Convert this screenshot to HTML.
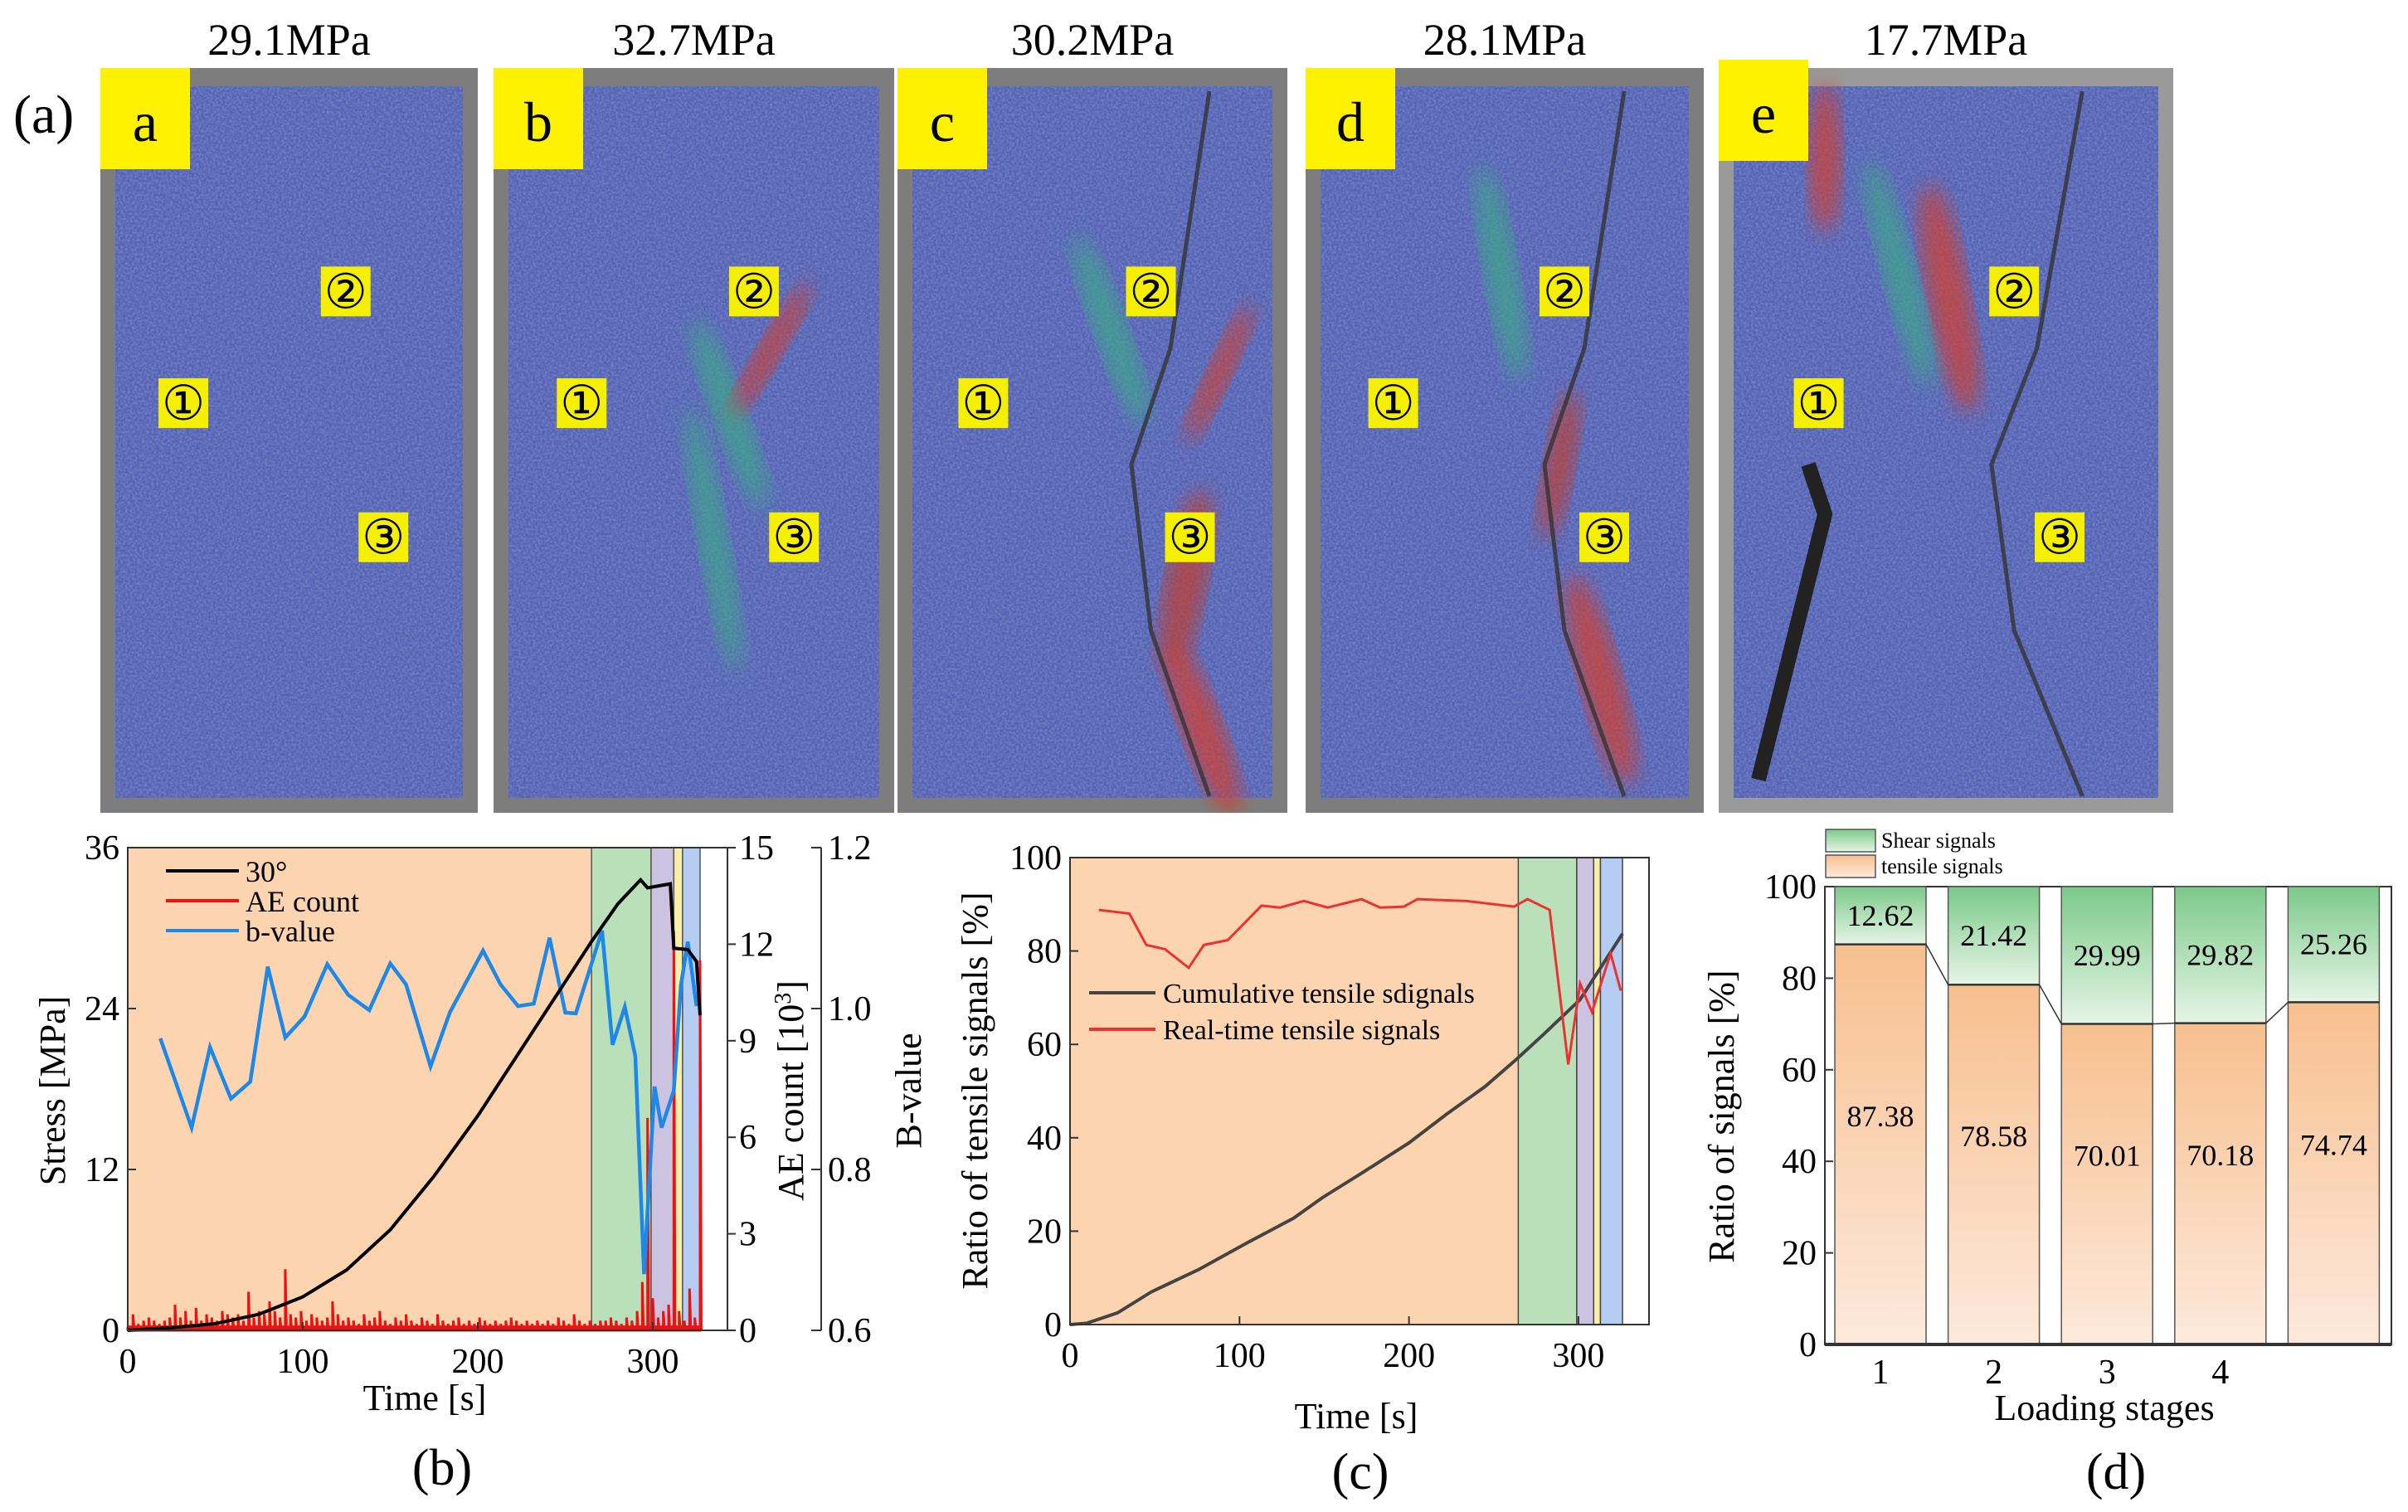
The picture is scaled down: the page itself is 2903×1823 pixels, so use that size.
<!DOCTYPE html>
<html><head><meta charset="utf-8">
<style>
html,body{margin:0;padding:0;background:#fff;}
svg{display:block;}
svg text{font-family:"Liberation Serif","Times New Roman",serif;}
</style></head>
<body>
<svg id="fig" width="2903" height="1823" viewBox="0 0 2903 1823" xmlns="http://www.w3.org/2000/svg">
<defs>
  <filter id="tex" x="0" y="0" width="100%" height="100%">
    <feTurbulence type="fractalNoise" baseFrequency="0.35" numOctaves="2" seed="3"/>
    <feColorMatrix type="matrix" values="0 0 0 0 0.2  0 0 0 0 0.25  0 0 0 0 0.55  0 0 0 -1.6 1.1"/>
    <feComposite in2="SourceGraphic" operator="in"/>
  </filter>
  <filter id="blur12"><feGaussianBlur stdDeviation="12"/></filter>
  <linearGradient id="gGreen" x1="0" y1="0" x2="0" y2="1"><stop offset="0" stop-color="#7cc98a"/><stop offset="1" stop-color="#e6f5e6"/></linearGradient>
  <linearGradient id="gOrange" x1="0" y1="0" x2="0" y2="1"><stop offset="0" stop-color="#f7bf8e"/><stop offset="1" stop-color="#fde9dc"/></linearGradient>
</defs>
<g id="photos"></g>
<g id="chartB"></g>
<g id="chartC"></g>
<g id="chartD"></g>
</svg>
<script>
// ---------- data ----------
const stressT = [0,25,50,75,100,125,150,175,200,225,250,265,280,293,297,310,312,320,325,327];
const stressV = [0,0.2,0.5,1.2,2.5,4.5,7.5,11.5,16,21,26,29,31.8,33.6,33.0,33.3,28.5,28.4,27.5,23.5];
const bT = [18.6,36.5,47,59,70,80,90,101,114,126,138,150,159,173,184,203,213,223,232,241,250,256,271,277,284,290,295,301,305,312,316,320,325];
const bV = [0.963,0.852,0.952,0.888,0.909,1.052,0.964,0.990,1.055,1.017,0.998,1.056,1.030,0.928,0.995,1.072,1.030,1.003,1.006,1.088,0.995,0.994,1.097,0.955,1.002,0.941,0.670,0.903,0.852,0.898,1.028,1.083,1.003];
const aeStep = 3;
const aeV = [0.1,0.5,0.2,0.3,0.4,0.3,0.2,0.3,0.4,0.8,
0.4,0.6,0.3,0.7,0.3,0.5,0.4,0.3,0.6,0.5,
0.4,0.5,0.3,1.2,0.4,0.6,0.5,0.9,0.6,0.4,
1.9,0.5,0.4,0.6,0.3,0.5,0.4,0.3,0.4,0.9,
0.5,0.3,0.4,0.3,0.2,0.5,0.3,0.4,0.6,0.3,
0.2,0.4,0.3,0.5,0.3,0.2,0.4,0.3,0.2,0.5,
0.3,0.2,0.3,0.4,0.2,0.3,0.2,0.4,0.3,0.2,
0.3,0.2,0.3,0.4,0.3,0.2,0.3,0.2,0.3,0.2,
0.3,0.2,0.4,0.3,0.2,0.5,0.3,0.2,0.3,0.2,
0.3,0.3,0.4,0.3,0.2,0.4,0.3,0.6,1.5,6.6,
1.0,0.4,0.6,0.8,12.4,0.6,0.3,1.3,0.4,11.5];
const stageBounds = [0,265,299,312,317,327];
const stageColors = ["#fcd5b0","#b9e0b8","#cbc3df","#f8f0a8","#b5cdf3"];
const bTicksX = [0,100,200,300];
const bTicksStress = [0,12,24,36];
const bTicksAE = [0,3,6,9,12,15];
const bTicksB = ["0.6","0.8","1.0","1.2"];

const cumT = [0,10,28,48,76,104,132,149,172,200,222,245,264,279,301,326];
const cumV = [0,0.3,2.5,7,11.8,17.4,22.8,27.2,32.4,38.9,45,51,57,62,69.6,83.7];
const rtT = [17,35,45,56,70,79,93,113,124,138,152,172,183,197,205,234,262,270,283,294,301,308,319,325];
const rtV = [88.8,88,81.3,80.4,76.4,81.3,82.3,89.7,89.3,90.7,89.3,91.1,89.3,89.5,91.1,90.7,89.5,91.1,88.8,55.7,73,66.9,79.5,71.5];
const cStageBounds = [0,264.5,299,309,313,326];
const cTicksX = [0,100,200,300];
const cTicksY = [0,20,40,60,80,100];

const dStages = ["1","2","3","4",""];
const dTensile = [87.38,78.58,70.01,70.18,74.74];
const dShear = [12.62,21.42,29.99,29.82,25.26];
const dTicksY = [0,20,40,60,80,100];

const pressures = ["29.1MPa","32.7MPa","30.2MPa","28.1MPa","17.7MPa"];
const panelLetters = ["a","b","c","d","e"];

// ---------- helpers ----------
const NS="http://www.w3.org/2000/svg";
function mk(parent,tag,attrs,text){const e=document.createElementNS(NS,tag);for(const k in attrs)e.setAttribute(k,attrs[k]);if(text!==undefined)e.textContent=text;parent.appendChild(e);return e;}

// ---------- photos ----------
const photos=document.getElementById('photos');
const panelX=[[121,576],[595,1078],[1082,1552],[1574,2054],[2072,2620]];
const streaks=[
 [],
 [[880,500,20,120,-20,'#3ea88a'],[930,420,15,90,30,'#d04030'],[860,650,18,160,-10,'#3ea88a']],
 [[1340,400,20,120,-20,'#3ea88a'],[1430,700,25,110,10,'#c04030'],[1450,880,25,110,-20,'#d04030'],[1470,450,15,90,25,'#d04030']],
 [[1810,330,20,130,-10,'#3ea88a'],[1930,820,25,130,-15,'#d04030'],[1880,560,18,90,10,'#c04030']],
 [[2200,190,20,90,0,'#d04030'],[2350,360,25,140,-10,'#d04030'],[2290,330,20,140,-15,'#3ea88a']]
];
panelX.forEach((p,i)=>{
  const g=mk(photos,'g',{});
  
  
  const w=p[1]-p[0];
  mk(g,'clipPath',{id:'clip'+i}).appendChild(Object.assign(document.createElementNS(NS,'rect'),{}));
  const cr=g.lastChild.firstChild; cr.setAttribute('x',p[0]);cr.setAttribute('y',82);cr.setAttribute('width',w);cr.setAttribute('height',898);
  const inner=mk(g,'g',{"clip-path":`url(#clip${i})`});
  mk(inner,'rect',{x:p[0],y:82,width:w,height:898,fill:i==4?'#9a9a9a':'#7d7d7d'});
  mk(inner,'rect',{x:p[0]+18,y:104,width:w-36,height:858,fill:'#5361b6'});
  mk(inner,'rect',{x:p[0]+18,y:104,width:w-36,height:858,fill:'#5361b6',filter:'url(#tex)'});
  streaks[i].forEach(s=>{mk(inner,'ellipse',{cx:s[0],cy:s[1],rx:s[2],ry:s[3],fill:s[5],opacity:0.75,filter:'url(#blur12)',transform:`rotate(${s[4]} ${s[0]} ${s[1]})`});});
  if(i>=2){mk(inner,'path',{d:`M${p[0]+w*0.8} 110 L${p[0]+w*0.7} 420 L${p[0]+w*0.6} 560 L${p[0]+w*0.65} 760 L${p[0]+w*0.8} 960`,stroke:'#333',"stroke-width":5,fill:'none',opacity:0.8});}
  if(i==4){mk(inner,'path',{d:`M2120 940 L2200 620 L2180 560`,stroke:'#222',"stroke-width":18,fill:'none'});}
  const mpos=[[0.22,0.45],[0.65,0.3],[0.75,0.63]];
  const mnum=["①","②","③"];
  mpos.forEach((m,j)=>{
    const cx=p[0]+w*m[0], cy=82+898*m[1];
    const mg=mk(g,'g',{});
    
    
    mk(mg,'rect',{x:cx-30,y:cy-30,width:60,height:60,fill:'#f5f000'});
    mk(mg,'text',{x:cx,y:cy+20,"font-size":58,"text-anchor":"middle",fill:'#000'},mnum[j]);
  });
  const lb=mk(g,'g',{});
  
  
  mk(lb,'rect',{x:p[0],y:i==4?72:82,width:108,height:122,fill:'#fff200'});
  mk(lb,'text',{x:p[0]+54,y:(i==4?72:82)+88,"font-size":68,"text-anchor":"middle"},panelLetters[i]);
  const pt=mk(photos,'text',{x:(p[0]+p[1])/2,y:66,"font-size":54,"text-anchor":"middle"},pressures[i]);
  
  
});
const al=mk(photos,'text',{x:16,y:160,"font-size":66},"(a)");



// ---------- chart B ----------
const B=document.getElementById('chartB');
const bL=154,bR=877,bTop=1022,bBot=1604;
const xb=t=>bL+t*2.11;
const ys=s=>bBot-s/36*(bBot-bTop);
const yae=a=>bBot-a/15*(bBot-bTop);
const ybv=b=>bBot-(b-0.6)/0.6*(bBot-bTop);
for(let i=0;i<5;i++){
  const r=mk(B,'rect',{x:xb(stageBounds[i]),y:bTop,width:xb(stageBounds[i+1])-xb(stageBounds[i]),height:bBot-bTop,fill:stageColors[i],stroke:i?'#555':'none',"stroke-width":1.5});
  
  
}
let aePts=[];
aeV.forEach((v,i)=>{const x=xb(i*aeStep);aePts.push(`${x},${yae(0)} ${x},${yae(v)} ${x+1.5},${yae(0)}`);});
const aeLine=mk(B,'polyline',{points:aePts.join(' '),fill:'none',stroke:'#ee1111',"stroke-width":3});


mk(B,'rect',{x:bL,y:yae(0.15),width:xb(327)-bL,height:yae(0)-yae(0.15),fill:'#ee1111'});
const bl=mk(B,'polyline',{points:bT.map((t,i)=>xb(t)+','+ybv(bV[i])).join(' '),fill:'none',stroke:'#1e88e8',"stroke-width":4.5});


const sl=mk(B,'polyline',{points:stressT.map((t,i)=>xb(t)+','+ys(stressV[i])).join(' '),fill:'none',stroke:'#000',"stroke-width":4});


mk(B,'rect',{x:bL,y:bTop,width:bR-bL,height:bBot-bTop,fill:'none',stroke:'#333',"stroke-width":2});
bTicksStress.forEach(v=>{mk(B,'line',{x1:bL,x2:bL+10,y1:ys(v),y2:ys(v),stroke:'#333',"stroke-width":2});const t=mk(B,'text',{x:bL-10,y:ys(v)+14,"font-size":42,"text-anchor":"end"},v);});
bTicksAE.forEach(v=>{mk(B,'line',{x1:bR,x2:bR+10,y1:yae(v),y2:yae(v),stroke:'#333',"stroke-width":2});const t=mk(B,'text',{x:bR+14,y:yae(v)+14,"font-size":42},v);});
const bAx=990;
mk(B,'line',{x1:bAx,x2:bAx,y1:bTop,y2:bBot,stroke:'#333',"stroke-width":2});
bTicksB.forEach(v=>{const y=ybv(parseFloat(v));mk(B,'line',{x1:bAx-12,x2:bAx,y1:y,y2:y,stroke:'#333',"stroke-width":2});const t=mk(B,'text',{x:bAx+8,y:y+14,"font-size":42},v);});
bTicksX.forEach(v=>{mk(B,'line',{x1:xb(v),x2:xb(v),y1:bBot,y2:bBot-10,stroke:'#333',"stroke-width":2});const t=mk(B,'text',{x:xb(v),y:1655,"font-size":42,"text-anchor":"middle"},v);});
function title(p,x,y,txt,name,rot,fs){const t=mk(p,'text',{x:x,y:y,"font-size":fs||44,"text-anchor":"middle",transform:rot?`rotate(-90 ${x} ${y})`:''},txt);return t;}
title(B,78,1315,"Stress [MPa]","stress-axis-title",true);
const aeT=title(B,968,1315,"","ae-axis-title",true);
aeT.innerHTML='AE count [10<tspan baseline-shift="super" font-size="28">3</tspan>]';
title(B,1110,1315,"B-value","bvalue-axis-title",true);
title(B,512,1700,"Time [s]","chart-b-x-title",false);
title(B,533,1790,"(b)","chart-b-label",false,62);
const legB=[["30°","#000"],["AE count","#ee1111"],["b-value","#1e88e8"]];
legB.forEach((l,i)=>{const y=1050+i*36;const g=mk(B,'g',{});mk(g,'line',{x1:200,x2:288,y1:y,y2:y,stroke:l[1],"stroke-width":4});mk(g,'text',{x:296,y:y+13,"font-size":36},l[0]);});

// ---------- chart C ----------
const C=document.getElementById('chartC');
const cL=1290,cR=1988,cTop=1034,cBot=1597;
const xc=t=>cL+t*2.043;
const yc=p=>cBot-p*(cBot-cTop)/100;
for(let i=0;i<5;i++){
  const r=mk(C,'rect',{x:xc(cStageBounds[i]),y:cTop,width:xc(cStageBounds[i+1])-xc(cStageBounds[i]),height:cBot-cTop,fill:stageColors[i],stroke:i?'#444':'none',"stroke-width":1.5});
  
  
}
const cl=mk(C,'polyline',{points:cumT.map((t,i)=>xc(t)+','+yc(cumV[i])).join(' '),fill:'none',stroke:'#444',"stroke-width":4});


const rl=mk(C,'polyline',{points:rtT.map((t,i)=>xc(t)+','+yc(rtV[i])).join(' '),fill:'none',stroke:'#ee3030',"stroke-width":3});


mk(C,'rect',{x:cL,y:cTop,width:cR-cL,height:cBot-cTop,fill:'none',stroke:'#333',"stroke-width":2});
cTicksY.forEach(v=>{mk(C,'line',{x1:cL,x2:cL+10,y1:yc(v),y2:yc(v),stroke:'#333',"stroke-width":2});const t=mk(C,'text',{x:cL-10,y:yc(v)+14,"font-size":42,"text-anchor":"end"},v);});
cTicksX.forEach(v=>{mk(C,'line',{x1:xc(v),x2:xc(v),y1:cBot,y2:cBot-10,stroke:'#333',"stroke-width":2});const t=mk(C,'text',{x:xc(v),y:1648,"font-size":42,"text-anchor":"middle"},v);});
title(C,1190,1315,"Ratio of tensile signals [%]","ratio-axis-title",true);
title(C,1635,1722,"Time [s]","chart-c-x-title",false);
title(C,1640,1795,"(c)","chart-c-label",false,62);
const legC=[["Cumulative tensile sdignals","#444"],["Real-time tensile signals","#ee3030"]];
legC.forEach((l,i)=>{const y=1197+i*44;const g=mk(C,'g',{});mk(g,'line',{x1:1313,x2:1393,y1:y,y2:y,stroke:l[1],"stroke-width":4});mk(g,'text',{x:1402,y:y+12,"font-size":34},l[0]);});

// ---------- chart D ----------
const D=document.getElementById('chartD');
const dL=2200,dR=2883,dTop=1069,dBot=1621;
const yd=p=>dBot-p*(dBot-dTop)/100;
const barX=i=>2212+i*136.6, barW=110;
mk(D,'rect',{x:dL,y:dTop,width:dR-dL,height:dBot-dTop,fill:'none',stroke:'#333',"stroke-width":2});
dTensile.forEach((v,i)=>{
  const x=barX(i);
  const t=mk(D,'rect',{x:x,y:yd(v),width:barW,height:yd(0)-yd(v),fill:'url(#gOrange)',stroke:'#555',"stroke-width":1.5});
  
  
  const s=mk(D,'rect',{x:x,y:yd(v+dShear[i]),width:barW,height:yd(v)-yd(v+dShear[i]),fill:'url(#gGreen)',stroke:'#555',"stroke-width":1.5});
  
  
  mk(D,'line',{x1:x,x2:x+barW,y1:yd(v),y2:yd(v),stroke:'#333',"stroke-width":2.5});
  const lt=mk(D,'text',{x:x+barW/2,y:yd(v/2+4),"font-size":36,"text-anchor":"middle"},v.toFixed(2));
  
  const ls=mk(D,'text',{x:x+barW/2,y:yd(v+dShear[i]/2)+12,"font-size":36,"text-anchor":"middle"},dShear[i].toFixed(2));
  
  if(dStages[i]){const tl=mk(D,'text',{x:x+barW/2,y:1668,"font-size":42,"text-anchor":"middle"},dStages[i]);}
});
for(let i=0;i<4;i++){mk(D,'line',{x1:barX(i)+barW,y1:yd(dTensile[i]),x2:barX(i+1),y2:yd(dTensile[i+1]),stroke:'#333',"stroke-width":1.5});}
mk(D,'line',{x1:dL,x2:dR,y1:dBot,y2:dBot,stroke:'#333',"stroke-width":4});
dTicksY.forEach(v=>{mk(D,'line',{x1:dL,x2:dL+10,y1:yd(v),y2:yd(v),stroke:'#333',"stroke-width":2});const t=mk(D,'text',{x:dL-10,y:yd(v)+14,"font-size":42,"text-anchor":"end"},v);});
title(D,2090,1346,"Ratio of signals [%]","signals-axis-title",true);
title(D,2537,1712,"Loading stages","chart-d-x-title",false);
title(D,2551,1795,"(d)","chart-d-label",false,62);
const legD=[["Shear signals","url(#gGreen)",1000],["tensile signals","url(#gOrange)",1031]];
legD.forEach((l,i)=>{const g=mk(D,'g',{});mk(g,'rect',{x:2201,y:l[2],width:60,height:27,fill:l[1],stroke:'#555',"stroke-width":1.5});mk(g,'text',{x:2268,y:l[2]+22,"font-size":26},l[0]);});
</script>
</body></html>
